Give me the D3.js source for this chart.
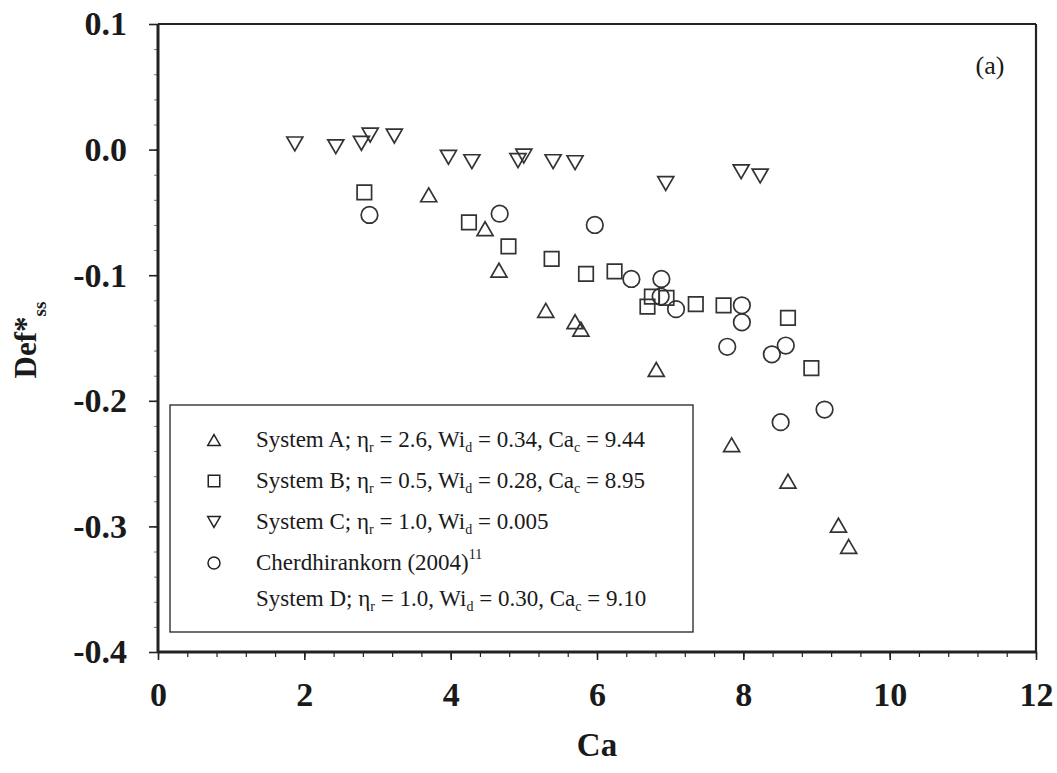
<!DOCTYPE html>
<html>
<head>
<meta charset="utf-8">
<script src="https://cdn.jsdelivr.net/npm/d3@7"></script>
<style>
  html, body { margin: 0; padding: 0; background: #fff; }
  svg { display: block; }
  text { font-family: "Liberation Serif", "Times New Roman", serif; fill: #1a1a1a; }
</style>
</head>
<body>
<svg id="chart" width="1057" height="773"></svg>
<script>
// Steady-state deformation Def*ss versus capillary number Ca
const sysA_ca  = [3.70, 4.47, 4.66, 5.30, 5.70, 5.78, 6.81, 7.84, 8.61, 9.30, 9.44];
const sysA_def = [-0.036, -0.063, -0.096, -0.128, -0.137, -0.143, -0.175, -0.235, -0.264, -0.299, -0.316];

const sysB_ca  = [2.82, 4.25, 4.79, 5.38, 5.85, 6.24, 6.75, 6.95, 6.69, 7.35, 7.73, 8.61, 8.93];
const sysB_def = [-0.034, -0.058, -0.077, -0.087, -0.099, -0.097, -0.117, -0.118, -0.125, -0.123, -0.124, -0.134, -0.174];

const sysC_ca  = [1.87, 2.43, 2.78, 2.90, 3.23, 3.97, 4.29, 4.92, 5.00, 5.40, 5.70, 6.94, 7.97, 8.23];
const sysC_def = [0.0045, 0.0023, 0.005, 0.0116, 0.0108, -0.0061, -0.0096, -0.0088, -0.0051, -0.0096, -0.0104, -0.027, -0.0176, -0.021];

const sysD_ca  = [2.89, 4.67, 5.97, 6.47, 6.88, 6.87, 7.08, 7.78, 7.98, 7.98, 8.39, 8.58, 8.51, 9.11];
const sysD_def = [-0.052, -0.051, -0.060, -0.103, -0.103, -0.117, -0.127, -0.157, -0.124, -0.1375, -0.163, -0.156, -0.217, -0.207];

const xTicks = [0, 2, 4, 6, 8, 10, 12];
const yTicks = [0.1, 0.0, -0.1, -0.2, -0.3, -0.4];

const svg = d3.select("#chart");
const x = d3.scaleLinear().domain([0, 12]).range([158, 1036]);
const y = d3.scaleLinear().domain([-0.4, 0.1]).range([652, 24]);

const ink = "#222";
const markInk = "#333";

// Triangles centred on their bounding box
const triUp = {
  draw(ctx, size) {
    const s = Math.sqrt(size);          // side length
    const h = s * Math.sqrt(3) / 2;
    ctx.moveTo(0, -h / 2);
    ctx.lineTo(s / 2, h / 2);
    ctx.lineTo(-s / 2, h / 2);
    ctx.closePath();
  }
};
const triDown = {
  draw(ctx, size) {
    const s = Math.sqrt(size);
    const h = s * Math.sqrt(3) / 2;
    ctx.moveTo(0, h / 2);
    ctx.lineTo(s / 2, -h / 2);
    ctx.lineTo(-s / 2, -h / 2);
    ctx.closePath();
  }
};

const series = [
  { ca: sysA_ca, def: sysA_def, type: triUp,           size: 16 * 16 },
  { ca: sysB_ca, def: sysB_def, type: d3.symbolSquare, size: 14.5 * 14.5 },
  { ca: sysC_ca, def: sysC_def, type: triDown,         size: 16 * 16 },
  { ca: sysD_ca, def: sysD_def, type: d3.symbolCircle, size: Math.PI * 8.3 * 8.3 }
];

// Axes with minor ticks
const xMinor = d3.range(0, 12.0001, 0.4);
const yMinor = d3.range(-0.4, 0.1001, 0.02);

svg.append("g")
  .attr("transform", `translate(0,${y(-0.4)})`)
  .call(d3.axisBottom(x).tickValues(xMinor).tickSize(5).tickFormat(""))
  .call(g => g.select(".domain").remove())
  .call(g => g.selectAll("line").attr("stroke", ink).attr("stroke-width", 1.2));
svg.append("g")
  .attr("transform", `translate(0,${y(-0.4)})`)
  .call(d3.axisBottom(x).tickValues(xTicks).tickSize(8).tickPadding(22).tickFormat(d3.format("d")))
  .call(g => g.select(".domain").remove())
  .call(g => g.selectAll("line").attr("stroke", ink).attr("stroke-width", 1.6))
  .call(g => g.selectAll("text")
    .attr("font-family", "Liberation Serif, serif")
    .attr("font-weight", "bold").attr("font-size", 34).attr("fill", ink));

svg.append("g")
  .attr("transform", `translate(${x(0)},0)`)
  .call(d3.axisLeft(y).tickValues(yMinor).tickSize(4).tickFormat(""))
  .call(g => g.select(".domain").remove())
  .call(g => g.selectAll("line").attr("stroke", "#777").attr("stroke-width", 1));
svg.append("g")
  .attr("transform", `translate(${x(0)},0)`)
  .call(d3.axisLeft(y).tickValues(yTicks).tickSize(9).tickPadding(22).tickFormat(d3.format(".1f")))
  .call(g => g.select(".domain").remove())
  .call(g => g.selectAll("line").attr("stroke", ink).attr("stroke-width", 1.6))
  .call(g => g.selectAll("text")
    .text(d => d3.format(".1f")(d).replace("−", "-"))
    .attr("font-family", "Liberation Serif, serif")
    .attr("font-weight", "bold").attr("font-size", 34).attr("fill", ink));

// Plot frame
svg.append("line").attr("x1", x(0)).attr("x2", x(12)).attr("y1", y(0.1)).attr("y2", y(0.1))
  .attr("stroke", ink).attr("stroke-width", 2.2);
svg.append("line").attr("x1", x(12)).attr("x2", x(12)).attr("y1", y(0.1)).attr("y2", y(-0.4))
  .attr("stroke", ink).attr("stroke-width", 2.2);
svg.append("line").attr("x1", x(0)).attr("x2", x(12)).attr("y1", y(-0.4)).attr("y2", y(-0.4))
  .attr("stroke", ink).attr("stroke-width", 3);
svg.append("line").attr("x1", x(0)).attr("x2", x(0)).attr("y1", y(0.1)).attr("y2", y(-0.4))
  .attr("stroke", ink).attr("stroke-width", 3);

// Data markers
series.forEach(s => {
  svg.append("g").selectAll("path")
    .data(s.ca.map((c, i) => [c, s.def[i]]))
    .join("path")
    .attr("transform", d => `translate(${x(d[0])},${y(d[1])})`)
    .attr("d", d3.symbol().type(s.type).size(s.size))
    .attr("fill", "none")
    .attr("stroke", markInk)
    .attr("stroke-width", 1.7);
});

// Panel tag
svg.append("text").attr("x", 990).attr("y", 74).attr("text-anchor", "middle")
  .attr("font-size", 26).text("(a)");

// Axis titles
svg.append("text").attr("x", (x(0) + x(12)) / 2).attr("y", 756).attr("text-anchor", "middle")
  .attr("font-weight", "bold").attr("font-size", 33).text("Ca");

const yTitle = svg.append("text")
  .attr("transform", `translate(36,${(y(0.1) + y(-0.4)) / 2 + 2}) rotate(-90)`)
  .attr("text-anchor", "middle").attr("font-weight", "bold").attr("font-size", 31);
yTitle.append("tspan").text("Def*");
yTitle.append("tspan").attr("font-size", 19).attr("dy", 10).text("ss");

// Legend
const lg = svg.append("g");
lg.append("rect").attr("x", 170).attr("y", 405).attr("width", 523).attr("height", 227)
  .attr("fill", "#fff").attr("stroke", ink).attr("stroke-width", 1.3);

const legendRows = [
  { type: triUp, parts: [["System A; η", ""], ["r", "sub"], [" = 2.6, Wi", ""], ["d", "sub"], [" = 0.34, Ca", ""], ["c", "sub"], [" = 9.44", ""]] },
  { type: d3.symbolSquare, parts: [["System B; η", ""], ["r", "sub"], [" = 0.5, Wi", ""], ["d", "sub"], [" = 0.28, Ca", ""], ["c", "sub"], [" = 8.95", ""]] },
  { type: triDown, parts: [["System C; η", ""], ["r", "sub"], [" = 1.0, Wi", ""], ["d", "sub"], [" = 0.005", ""]] },
  { type: d3.symbolCircle, parts: [["Cherdhirankorn (2004)", ""], ["11", "sup"]] },
  { type: null, parts: [["System D; η", ""], ["r", "sub"], [" = 1.0, Wi", ""], ["d", "sub"], [" = 0.30, Ca", ""], ["c", "sub"], [" = 9.10", ""]] }
];
const rowY = [440, 481, 522, 563, 599];
const legendSizes = new Map([[triUp, 12.5 * 12.5], [d3.symbolSquare, 11.5 * 11.5], [triDown, 12.5 * 12.5], [d3.symbolCircle, Math.PI * 6 * 6]]);

legendRows.forEach((row, i) => {
  const cy = rowY[i];
  if (row.type) {
    lg.append("path")
      .attr("transform", `translate(214,${cy})`)
      .attr("d", d3.symbol().type(row.type).size(legendSizes.get(row.type)))
      .attr("fill", "none").attr("stroke", ink).attr("stroke-width", 1.5);
  }
  const t = lg.append("text")
    .attr("x", 256).attr("y", cy + 7)
    .attr("font-size", 23);
  row.parts.forEach(([str, kind]) => {
    const sp = t.append("tspan").text(str);
    if (kind === "sub") sp.attr("font-size", 14).attr("baseline-shift", "-5");
    if (kind === "sup") sp.attr("font-size", 14).attr("baseline-shift", "11");
  });
});
</script>
</body>
</html>
